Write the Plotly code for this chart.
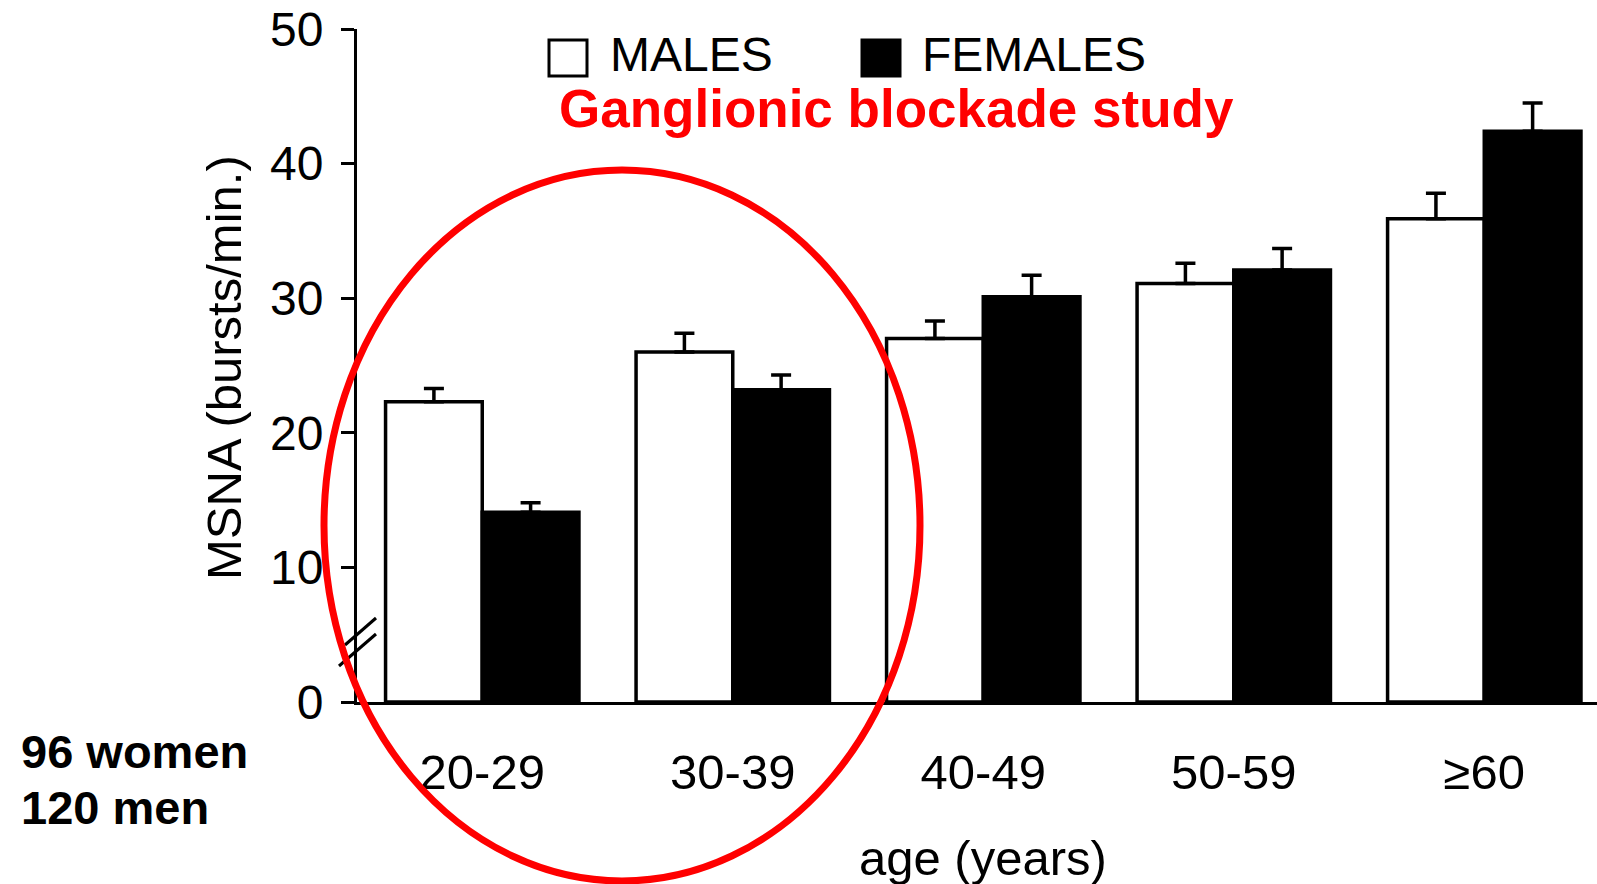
import plotly.graph_objects as go

age_groups = ["20-29", "30-39", "40-49", "50-59", "≥60"]
males = [22.3, 26.0, 27.0, 31.1, 35.9]
males_err = [1.0, 1.4, 1.3, 1.5, 1.9]
females = [14.1, 23.2, 30.1, 32.1, 42.4]
females_err = [0.7, 1.1, 1.6, 1.6, 2.1]
y_ticks = [0, 10, 20, 30, 40, 50]

W, H = 1597, 884
L, R, T, B = 357, 1597, 29, 702
FONT = "Arial, Liberation Sans, Helvetica, sans-serif"


def px(x):
    return (x - L) / (R - L)


def py(y):
    return (B - y) / (B - T)


fig = go.Figure()
fig.add_trace(go.Bar(
    x=age_groups, y=males, name="MALES",
    marker=dict(color="white", line=dict(color="black", width=3.5)),
    error_y=dict(type="data", array=males_err, arrayminus=[0] * 5, symmetric=False,
                 color="black", thickness=3.5, width=10),
    showlegend=False,
))
fig.add_trace(go.Bar(
    x=age_groups, y=females, name="FEMALES",
    marker=dict(color="black", line=dict(color="black", width=3.5)),
    error_y=dict(type="data", array=females_err, arrayminus=[0] * 5, symmetric=False,
                 color="black", thickness=3.5, width=10),
    showlegend=False,
))

shapes = [
    # axis break
    dict(type="line", xref="paper", yref="paper", x0=px(345), y0=py(645), x1=px(376), y1=py(618),
         line=dict(color="black", width=3)),
    dict(type="line", xref="paper", yref="paper", x0=px(339), y0=py(666), x1=px(376), y1=py(634),
         line=dict(color="black", width=3)),
    # legend boxes
    dict(type="rect", xref="paper", yref="paper", x0=px(549), y0=py(76), x1=px(587), y1=py(40),
         fillcolor="white", line=dict(color="black", width=3)),
    dict(type="rect", xref="paper", yref="paper", x0=px(862), y0=py(76), x1=px(900), y1=py(40),
         fillcolor="black", line=dict(color="black", width=3)),
    # red ellipse
    dict(type="circle", xref="paper", yref="paper", x0=px(324), y0=py(881), x1=px(920), y1=py(170),
         line=dict(color="#ff0000", width=7)),
]

annotations = [
    dict(text="MALES", xref="paper", yref="paper", x=px(608), y=py(55), xanchor="left", yanchor="middle",
         showarrow=False, font=dict(family=FONT, size=48, color="black")),
    dict(text="FEMALES", xref="paper", yref="paper", x=px(920), y=py(55), xanchor="left", yanchor="middle",
         showarrow=False, font=dict(family=FONT, size=48, color="black")),
    dict(text="<b>Ganglionic blockade study</b>", xref="paper", yref="paper", x=px(896), y=py(108),
         xanchor="center", yanchor="middle", showarrow=False,
         font=dict(family=FONT, size=53, color="#ff0000")),
    dict(text="MSNA (bursts/min.)", xref="paper", yref="paper", x=px(224), y=py(368),
         xanchor="center", yanchor="middle", textangle=-90, showarrow=False,
         font=dict(family=FONT, size=49, color="black")),
    dict(text="age (years)", xref="paper", yref="paper", x=px(983), y=py(858),
         xanchor="center", yanchor="middle", showarrow=False,
         font=dict(family=FONT, size=49, color="black")),
    dict(text="<b>96 women</b>", xref="paper", yref="paper", x=px(19), y=py(751),
         xanchor="left", yanchor="middle", showarrow=False,
         font=dict(family=FONT, size=47, color="black")),
    dict(text="<b>120 men</b>", xref="paper", yref="paper", x=px(19), y=py(808),
         xanchor="left", yanchor="middle", showarrow=False,
         font=dict(family=FONT, size=47, color="black")),
]

fig.update_layout(
    width=W, height=H,
    margin=dict(l=L, r=W - R, t=T, b=H - B, pad=0),
    paper_bgcolor="white", plot_bgcolor="white",
    barmode="group", bargap=0.228, bargroupgap=0,
    font=dict(family=FONT, size=46, color="black"),
    shapes=shapes, annotations=annotations,
    xaxis=dict(
        range=[-0.5, 4.45], showline=True, linecolor="black", linewidth=3,
        ticks="", showgrid=False, zeroline=False, ticklabelstandoff=25,
        tickfont=dict(family=FONT, size=49, color="black"),
    ),
    yaxis=dict(
        range=[0, 50], tickvals=y_ticks, showline=True, linecolor="black", linewidth=3,
        ticks="outside", ticklen=13, tickwidth=3, tickcolor="black",
        showgrid=False, zeroline=False, ticklabelstandoff=8,
        tickfont=dict(family=FONT, size=48, color="black"),
    ),
)

fig.write_html("out.html")
